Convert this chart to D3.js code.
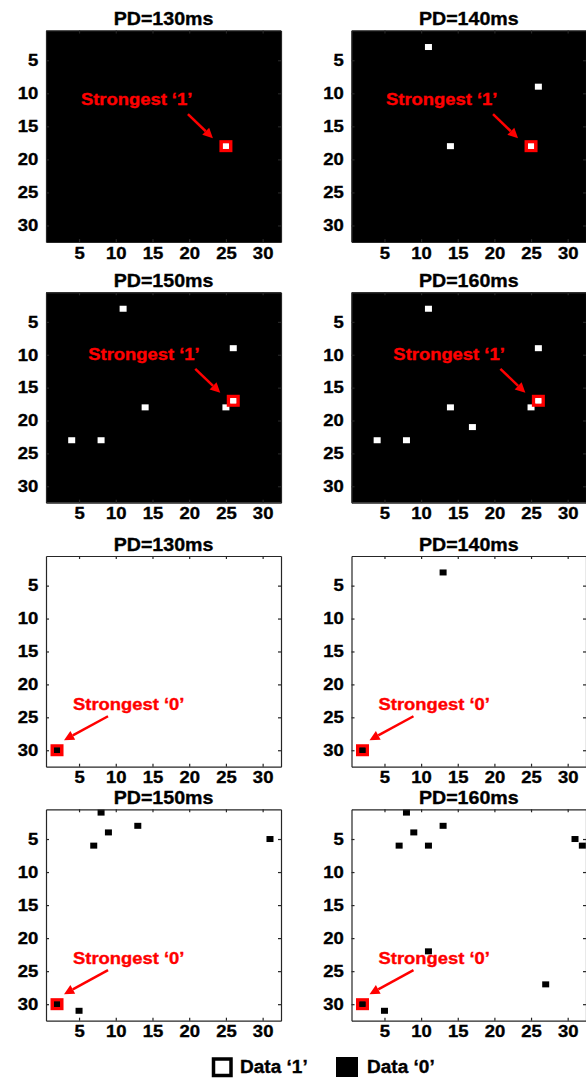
<!DOCTYPE html>
<html>
<head>
<meta charset="utf-8">
<script src="https://cdn.jsdelivr.net/npm/d3@7"></script>
<style>
body { margin: 0; background: #fff; }
svg text { font-family: "Liberation Sans", Arial, sans-serif; font-weight: bold; stroke: currentColor; stroke-width: 0.35px; }
</style>
</head>
<body>
<div id="chart"></div>
<script>
// panel titles and tick values
var titles = ["PD=130ms", "PD=140ms", "PD=150ms", "PD=160ms"];
var tickValues = [5, 10, 15, 20, 25, 30];

// cells holding data '1' [column, row]
var onesPD130 = [[25, 18]];
var onesPD140 = [[11, 3], [26, 9], [14, 18], [25, 18]];
var onesPD150 = [[11, 3], [26, 9], [14, 18], [25, 18], [26, 17], [4, 23], [8, 23]];
var onesPD160 = [[11, 3], [26, 9], [14, 18], [25, 18], [26, 17], [17, 21], [4, 23], [8, 23]];

// cells holding data '0' [column, row]
var zerosPD130 = [[2, 30]];
var zerosPD140 = [[13, 3], [2, 30]];
var zerosPD150 = [[8, 1], [13, 3], [9, 4], [7, 6], [31, 5], [5, 31], [2, 30]];
var zerosPD160 = [[8, 1], [13, 3], [9, 4], [7, 6], [11, 6], [31, 5], [32, 6], [11, 22], [27, 27], [5, 31], [2, 30]];

// strongest cell for each panel
var strongestOne = [[25, 18], [25, 18], [26, 17], [26, 17]];
var strongestZero = [[2, 30], [2, 30], [2, 30], [2, 30]];

var labelOne = "Strongest \u20181\u2019";
var labelZero = "Strongest \u20180\u2019";
var legendLabels = ["Data \u20181\u2019", "Data \u20180\u2019"];

var width = 586, height = 1078;
var cols = [[46, 281], [351.5, 586]];
var rows = [[30.5, 242], [292.3, 502.7], [556, 766.7], [809.3, 1020.7]];
var red = "#ff0000", axisColor = "#262626";

var panels = [
	{title: titles[0], pts: onesPD130, best: strongestOne[0], kind: 1, c: 0, r: 0},
	{title: titles[1], pts: onesPD140, best: strongestOne[1], kind: 1, c: 1, r: 0},
	{title: titles[2], pts: onesPD150, best: strongestOne[2], kind: 1, c: 0, r: 1},
	{title: titles[3], pts: onesPD160, best: strongestOne[3], kind: 1, c: 1, r: 1},
	{title: titles[0], pts: zerosPD130, best: strongestZero[0], kind: 0, c: 0, r: 2},
	{title: titles[1], pts: zerosPD140, best: strongestZero[1], kind: 0, c: 1, r: 2},
	{title: titles[2], pts: zerosPD150, best: strongestZero[2], kind: 0, c: 0, r: 3},
	{title: titles[3], pts: zerosPD160, best: strongestZero[3], kind: 0, c: 1, r: 3}
];

var svg = d3.select("#chart")
	.append("svg")
		.attr("width", width)
		.attr("height", height);

function arrow(g, x1, y1, x2, y2) {
	var a = Math.atan2(y2 - y1, x2 - x1), L = 10, W = 5;
	var bx = x2 - L * Math.cos(a), by = y2 - L * Math.sin(a);
	g.append("line")
		.attr("x1", x1).attr("y1", y1).attr("x2", bx).attr("y2", by)
		.attr("stroke", red).attr("stroke-width", 2.5);
	g.append("path")
		.attr("d", "M" + x2 + "," + y2 + "L" + (bx + W * Math.sin(a)) + "," + (by - W * Math.cos(a)) +
			"L" + (bx - W * Math.sin(a)) + "," + (by + W * Math.cos(a)) + "Z")
		.attr("fill", red);
}

panels.forEach(function(p) {
	var x = d3.scaleLinear().domain([0.5, 32.5]).range(cols[p.c]);
	var y = d3.scaleLinear().domain([0.5, 32.5]).range(rows[p.r]);
	var bg = p.kind === 1 ? "#000" : "#fff";
	var fg = p.kind === 1 ? "#fff" : "#000";
	var g = svg.append("g");

	g.append("rect")
		.attr("x", x(0.5)).attr("y", y(0.5))
		.attr("width", x(32.5) - x(0.5)).attr("height", y(32.5) - y(0.5))
		.attr("fill", bg);

	// cells
	g.selectAll("rect.pt")
		.data(p.pts)
		.enter().append("rect")
			.attr("class", "pt")
			.attr("x", function(d) { return x(d[0]) - 3.5; })
			.attr("y", function(d) { return y(d[1]) - 3; })
			.attr("width", 7)
			.attr("height", 6)
			.attr("fill", fg);

	// strongest cell
	var bx = x(p.best[0]), by = y(p.best[1]);
	g.append("rect")
		.attr("x", bx - 4.75).attr("y", by - 4.25)
		.attr("width", 9.5).attr("height", 8.5)
		.attr("fill", "none").attr("stroke", red).attr("stroke-width", 3.5);
	g.append("rect")
		.attr("x", bx - 3).attr("y", by - 2.75)
		.attr("width", 6).attr("height", 5.5)
		.attr("fill", fg);

	// axes, ticks inside
	var tfont = 16.5, tscale = "scale(1.12,1)";
	var xb = g.append("g").attr("transform", "translate(0," + y(32.5) + ")")
		.call(d3.axisBottom(x).tickValues(tickValues).tickSizeInner(-3).tickSizeOuter(0).tickPadding(5));
	var yl = g.append("g").attr("transform", "translate(" + x(0.5) + ",0)")
		.call(d3.axisLeft(y).tickValues(tickValues).tickSizeInner(-3).tickSizeOuter(0).tickPadding(7));
	g.append("g").attr("transform", "translate(0," + y(0.5) + ")")
		.call(d3.axisTop(x).tickValues(tickValues).tickSizeInner(-3).tickSizeOuter(0).tickFormat(""));
	g.append("g").attr("transform", "translate(" + x(32.5) + ",0)")
		.call(d3.axisRight(y).tickValues(tickValues).tickSizeInner(-3).tickSizeOuter(0).tickFormat(""));
	g.selectAll(".domain, .tick line").attr("stroke", axisColor).attr("stroke-width", 1.2);
	[xb, yl].forEach(function(a) {
		a.attr("font-size", tfont).attr("font-family", null);
		a.selectAll("text").attr("fill", "#000").style("color", "#000").attr("transform", tscale);
	});

	// title
	g.append("text")
		.attr("transform", "translate(" + (x(0.5) + x(32.5)) / 2 + "," + (y(0.5) - 5.5) + ") scale(1.06,1)")
		.attr("text-anchor", "middle")
		.attr("font-size", 18.5)
		.style("color", "#000")
		.text(p.title);

	// annotation
	var ann = g.append("g");
	if (p.kind === 1) {
		ann.append("text")
			.attr("transform", "translate(" + (bx - 145) + "," + (by - 41) + ") scale(1.15,1)")
			.attr("font-size", 16).attr("fill", red).style("color", red)
			.text(labelOne);
		arrow(ann, bx - 38, by - 32, bx - 13, by - 8);
	} else {
		ann.append("text")
			.attr("transform", "translate(" + (bx + 16) + "," + (by - 40) + ") scale(1.15,1)")
			.attr("font-size", 16).attr("fill", red).style("color", red)
			.text(labelZero);
		arrow(ann, bx + 51, by - 34, bx + 7, by - 10);
	}
});

// legend
var legend = svg.append("g").style("color", "#000");
legend.append("rect")
	.attr("x", 213.5).attr("y", 1059).attr("width", 17.5).attr("height", 16.5)
	.attr("fill", "#fff").attr("stroke", "#000").attr("stroke-width", 3.5);
legend.append("text")
	.attr("transform", "translate(240,1073) scale(1.03,1)")
	.attr("font-size", 18.5)
	.text(legendLabels[0]);
legend.append("rect")
	.attr("x", 336).attr("y", 1057).attr("width", 22).attr("height", 20)
	.attr("fill", "#000");
legend.append("text")
	.attr("transform", "translate(367,1073) scale(1.03,1)")
	.attr("font-size", 18.5)
	.text(legendLabels[1]);
</script>
</body>
</html>
